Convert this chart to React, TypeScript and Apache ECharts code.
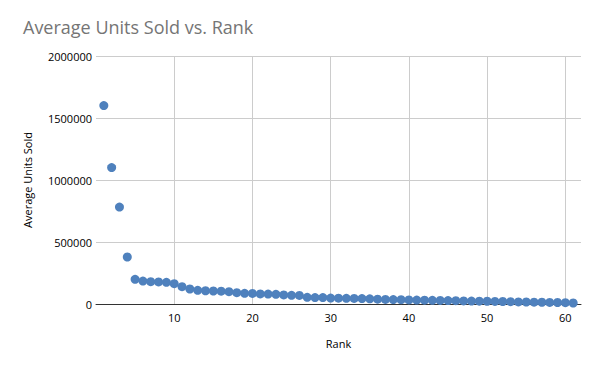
import React, { useEffect, useRef } from "react";
import * as echarts from "echarts";

const ranks: number[] = Array.from({ length: 61 }, (_, i) => i + 1);
const avgUnitsSold: number[] = [
  1600000, 1100000, 782000, 379000, 199000, 185000, 180000, 178000, 175000, 164000,
  140000, 121000, 110000, 107000, 105000, 103000, 99000, 91000, 86000, 85000,
  81000, 80000, 78000, 73000, 70000, 69000, 54000, 52000, 52000, 48000,
  47000, 46000, 45000, 44000, 42000, 39000, 37000, 36000, 35000, 33000,
  32000, 31000, 30000, 29000, 28000, 27000, 25000, 24000, 23000, 22000,
  21000, 20000, 19000, 17000, 16000, 15000, 14000, 13000, 12000, 11000,
  8000,
];

const titleText = "Average Units Sold vs. Rank";
const xAxisName = "Rank";
const yAxisName = "Average Units Sold";

export default function App() {
  const ref = useRef<HTMLDivElement>(null);
  useEffect(() => {
    if (!ref.current) return;
    const chart = echarts.init(ref.current, undefined, { renderer: "svg" });
    const font = "'Open Sans', 'Liberation Sans', sans-serif";
    chart.setOption({
      animation: false,
      backgroundColor: "#ffffff",
      title: {
        text: titleText,
        left: 18,
        top: 13,
        textStyle: { fontFamily: font, fontSize: 18, fontWeight: "normal", color: "#757575" },
      },
      grid: { left: 96, right: 19, top: 56, bottom: 67 },
      xAxis: {
        type: "value",
        min: 0,
        max: 62,
        interval: 10,
        name: xAxisName,
        nameLocation: "middle",
        nameGap: 34,
        nameTextStyle: { fontFamily: font, fontSize: 11, color: "#000" },
        axisLine: { show: true, lineStyle: { color: "#333333", width: 1 } },
        axisTick: { show: false },
        axisLabel: {
          fontFamily: font,
          fontSize: 11,
          color: "#000",
          margin: 8,
          showMinLabel: false,
          showMaxLabel: false,
          formatter: (v: number) => (v === 0 || v % 10 !== 0 ? "" : String(v)),
        },
        splitLine: { show: true, showMinLine: false, showMaxLine: false, lineStyle: { color: "#cccccc" } },
      },
      yAxis: {
        type: "value",
        min: 0,
        max: 2000000,
        interval: 500000,
        name: yAxisName,
        nameLocation: "middle",
        nameGap: 63,
        nameTextStyle: { fontFamily: font, fontSize: 11, color: "#000" },
        axisLine: { show: false },
        axisTick: { show: false },
        axisLabel: {
          fontFamily: font,
          fontSize: 11,
          color: "#000",
          margin: 4,
          formatter: (v: number) => String(v),
        },
        splitLine: { show: true, lineStyle: { color: "#cccccc" } },
      },
      series: [
        {
          type: "scatter",
          data: ranks.map((r, i) => [r, avgUnitsSold[i]]),
          symbolSize: 9,
          itemStyle: { color: "#4f81bd", opacity: 1 },
        },
      ],
    });
    return () => chart.dispose();
  }, []);
  return <div ref={ref} style={{ width: 600, height: 371, position: "absolute", left: 0, top: 0 }} />;
}
